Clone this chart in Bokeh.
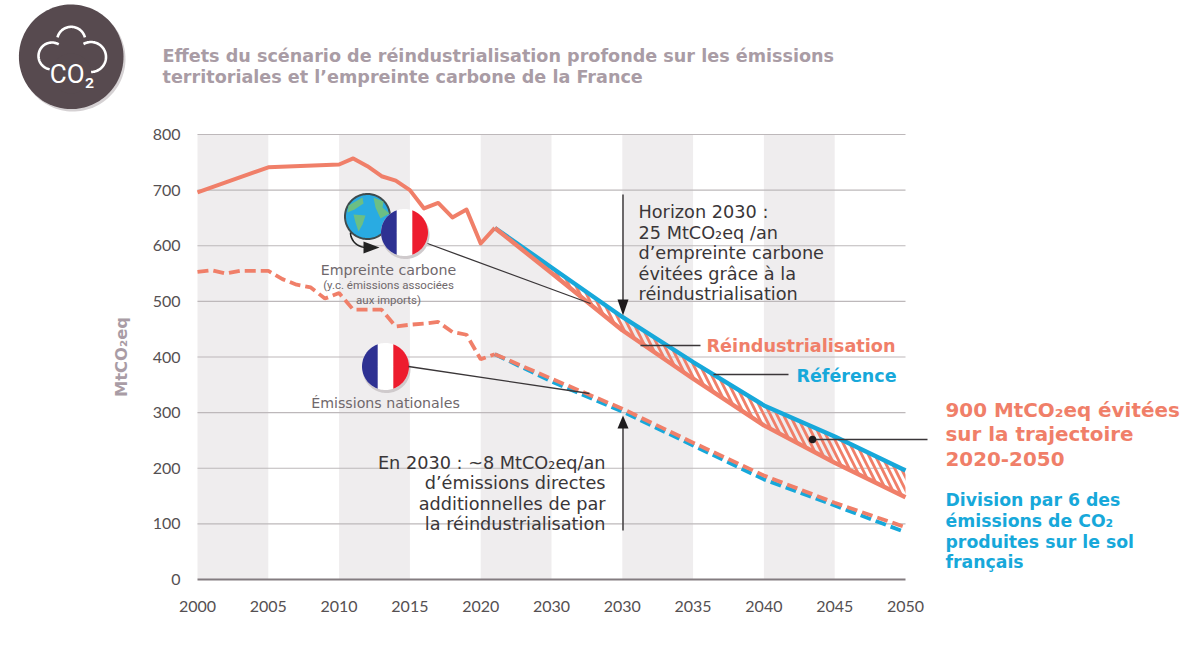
import numpy as np
from bokeh.core.properties import value
from bokeh.embed import file_html
from bokeh.models import FixedTicker, Range1d
from bokeh.plotting import figure
from bokeh.resources import INLINE

# ---------- data ----------
hist_years = list(range(2000, 2022))
footprint_years = [2000, 2005, 2010, 2011, 2012, 2013, 2014, 2015, 2016, 2017, 2018, 2019, 2020, 2021]
footprint_hist = [696, 741, 746, 757, 743, 725, 717, 700, 667, 677, 651, 665, 604, 632]
national_hist = [553, 556, 550, 555, 555, 555, 540, 530, 525, 505, 515, 485, 485, 485, 455, 458, 460, 463, 445, 440, 396, 405]
proj_years = [2021, 2025, 2030, 2035, 2040, 2045, 2050]
footprint_ref = [632, 561, 472, 391, 313, 257, 196]
footprint_reind = [632, 551, 448, 361, 277, 210, 148]
national_ref = [405, 356, 302, 241, 180, 133, 85]
national_reind = [405, 361, 307, 246, 187, 138, 94]
band_start = [2000, 2010, 2020, 2030, 2040]
band_end = [2005, 2015, 2025, 2035, 2045]
x_ticks = [2000, 2005, 2010, 2015, 2020, 2025, 2030, 2035, 2040, 2045, 2050]
x_tick_labels = ["2000", "2005", "2010", "2015", "2020", "2030", "2030", "2035", "2040", "2045", "2050"]
y_ticks = [0, 100, 200, 300, 400, 500, 600, 700, 800]

SALMON = "#f07f69"
BLUE = "#17a8da"
TITLE = "#a99ca5"
INK = "#3a3638"
GREY = "#6f686c"
DARK = "#574a4f"

# ---------- page geometry: the frame fills the canvas ----------
W, H = 1184, 634
PX_X0, PX_X1, PX_Y0, PX_Y1 = 197.0, 905.0, 579.0, 134.0
sx = (PX_X1 - PX_X0) / 50.0
sy = (PX_Y0 - PX_Y1) / 800.0


def X(px):
    return 2000 + (np.asarray(px, dtype=float) - PX_X0) / sx


def Y(py):
    return (PX_Y0 - np.asarray(py, dtype=float)) / sy


p = figure(width=W, height=H, output_backend="svg", toolbar_location=None,
           x_range=Range1d(float(X(0)), float(X(W))),
           y_range=Range1d(float(Y(H)), float(Y(0))),
           min_border=0, outline_line_color=None,
           background_fill_color="white", border_fill_color="white")
p.grid.visible = False

p.quad(left=band_start, right=band_end, bottom=0, top=800, fill_color="#efedee", line_color=None)
p.segment(x0=2000, x1=2050, y0=y_ticks[1:], y1=y_ticks[1:], line_color="#bdb8ba", line_width=1.2)

xaxis = p.xaxis[0]
xaxis.fixed_location = 0
xaxis.bounds = (2000, 2050)
xaxis.ticker = FixedTicker(ticks=x_ticks)
xaxis.major_label_overrides = dict(zip(x_ticks, x_tick_labels))
xaxis.axis_line_color = "#837c80"
xaxis.axis_line_width = 2
xaxis.major_tick_line_color = None
xaxis.minor_tick_line_color = None
xaxis.major_label_standoff = 15
xaxis.major_label_text_font = "Lato"
xaxis.major_label_text_font_size = "16px"
xaxis.major_label_text_color = "#555052"

yaxis = p.yaxis[0]
yaxis.fixed_location = 2000
yaxis.bounds = (0, 800)
yaxis.ticker = FixedTicker(ticks=y_ticks)
yaxis.axis_label = "MtCO₂eq"
yaxis.axis_line_color = None
yaxis.major_tick_line_color = None
yaxis.minor_tick_line_color = None
yaxis.major_label_standoff = 11
yaxis.major_label_text_font = "Lato"
yaxis.major_label_text_font_size = "16px"
yaxis.major_label_text_color = "#555052"
yaxis.axis_label_text_font = "DejaVu Sans"
yaxis.axis_label_text_font_style = "bold"
yaxis.axis_label_text_font_size = "16.4px"
yaxis.axis_label_text_color = TITLE
yaxis.axis_label_standoff = 19

# hatched gap between the two footprint trajectories
p.varea(x=proj_years, y1=footprint_reind, y2=footprint_ref, fill_alpha=0,
        hatch_pattern="left_diagonal_line", hatch_color=SALMON, hatch_weight=2.8, hatch_scale=13)

p.line(footprint_years, footprint_hist, line_color=SALMON, line_width=4, line_join="round")
p.line(proj_years, footprint_ref, line_color=BLUE, line_width=4.4)
p.line(proj_years, footprint_reind, line_color=SALMON, line_width=4.4)
p.line(hist_years, national_hist, line_color=SALMON, line_width=3.8, line_dash=[11, 5])
p.line(proj_years, national_ref, line_color=BLUE, line_width=3.8, line_dash=[11, 5])
p.line(proj_years, national_reind, line_color=SALMON, line_width=3.8, line_dash=[11, 5])


# ---------- decorations ----------
def circle(cx, cy, r, **kw):
    t = np.linspace(0, 2 * np.pi, 120)
    p.patch(X(cx + r * np.cos(t)), Y(cy + r * np.sin(t)), **kw)


def flag(cx, cy, r):
    circle(cx + 1, cy + 2.5, r + 0.5, fill_color="#cfcacc", line_color=None)
    circle(cx, cy, r, fill_color="white", line_color=None)
    lim = r / 3.0
    for sign, col in ((-1, "#2e3192"), (1, "#ed1c2e")):
        a0 = np.arccos(lim / r)
        t = np.linspace(-a0, a0, 60)
        p.patch(X(cx + sign * r * np.cos(t)), Y(cy + r * np.sin(t)), fill_color=col, line_color=None)


def seg(x0, y0, x1, y1, color=INK, width=1.3):
    p.line(X([x0, x1]), Y([y0, y1]), line_color=color, line_width=width)


def tri(pts, color=INK):
    xs, ys = zip(*pts)
    p.patch(X(xs), Y(ys), fill_color=color, line_color=None)


def note(px, py, s, size, color=INK, bold=False, align="left", font="DejaVu Sans"):
    p.text([float(X(px))], [float(Y(py))], text=[s], text_font=value(font), text_font_size=f"{size}px",
           text_color=color, text_align=align, text_baseline="middle",
           text_font_style="bold" if bold else "normal")


# CO2 badge
circle(72.5, 58.5, 52.5, fill_color="#d5d1d3", line_color=None)
circle(70.7, 56.3, 52.3, fill_color=DARK, line_color=None)
for cx, cy, r, a, b in ((51.5, 55.5, 13.5, 100, 300), (70.7, 40.5, 14.2, 195, 345), (90.5, 56.5, 15, 240, 450)):
    t = np.radians(np.linspace(a, b, 50))
    p.line(X(cx + r * np.cos(t)), Y(cy + r * np.sin(t)), line_color="white", line_width=2.6)
circle(70.7, 73, 20, fill_color=DARK, line_color=None)
note(71.5, 73, "CO₂", 26, "white", False, "center", "Roboto")

# globe + flags
t = np.linspace(0, 2 * np.pi, 120)
p.patch(X(367 + 22.5 * np.cos(t)), Y(216 + 22.5 * np.sin(t)), fill_color="#29abe2", line_color="#3f4b4d", line_width=2)
for poly in ([(348, 205), (362, 197), (363, 203), (354, 209), (347, 212)],
             [(353, 214), (365, 215), (362, 224), (358, 231), (355, 222)],
             [(373, 197), (383, 201), (382, 207), (389, 213), (380, 218), (375, 207)]):
    tri(poly, "#6cbf84")
t = np.radians(np.linspace(180, 95, 20))
p.line(X(366 + 16 * np.cos(t)), Y(232 + 15 * np.sin(t)), line_color="#222", line_width=1.6)
tri([(363, 241), (379, 247), (363, 253)], "#222")
flag(404, 232, 23.5)
flag(385, 366, 23.5)

# leaders and arrows
seg(427, 243, 590, 303)
seg(408, 366, 589, 393)
seg(640, 345, 700, 345)
seg(713, 374, 788, 374)
seg(812, 439, 927, 439)
circle(812, 439, 3.8, fill_color="#1d1a1c", line_color=None)
seg(622.5, 194, 622.5, 300, "#4a4648", 1.6)
tri([(617, 299), (628, 299), (622.5, 315)], "#1d1a1c")
seg(622.5, 530, 622.5, 427, "#4a4648", 1.6)
tri([(617, 428), (628, 428), (622.5, 415)], "#1d1a1c")

# ---------- texts ----------
note(162, 55, "Effets du scénario de réindustrialisation profonde sur les émissions", 17.6, TITLE, True)
note(162, 76, "territoriales et l’empreinte carbone de la France", 17.6, TITLE, True)

for py, s in zip((211, 232, 252, 273, 293),
                 ("Horizon 2030 :", "25 MtCO₂eq /an", "d’empreinte carbone", "évitées grâce à la", "réindustrialisation")):
    note(638, py, s, 17.7)
for py, s in zip((462, 482, 503, 523),
                 ("En 2030 : ~8 MtCO₂eq/an", "d’émissions directes", "additionnelles de par", "la réindustrialisation")):
    note(605, py, s, 17.7, align="right")

note(706, 345, "Réindustrialisation", 17.7, SALMON, True)
note(796, 375, "Référence", 17.5, BLUE, True)
for py, s in zip((410, 434, 458), ("900 MtCO₂eq évitées", "sur la trajectoire", "2020-2050")):
    note(945, py, s, 19.9, SALMON, True)
for py, s in zip((499, 520, 541, 561),
                 ("Division par 6 des", "émissions de CO₂", "produites sur le sol", "français")):
    note(945, py, s, 17.3, BLUE, True)

note(388, 269, "Empreinte carbone", 14.2, GREY, align="center")
note(388, 284, "(y.c. émissions associées", 11.5, GREY, align="center", font="Roboto")
note(388, 299, "aux imports)", 11.5, GREY, align="center", font="Roboto")
note(385, 402, "Émissions nationales", 14.2, GREY, align="center")

open("out.html", "w").write(file_html(p, INLINE))
